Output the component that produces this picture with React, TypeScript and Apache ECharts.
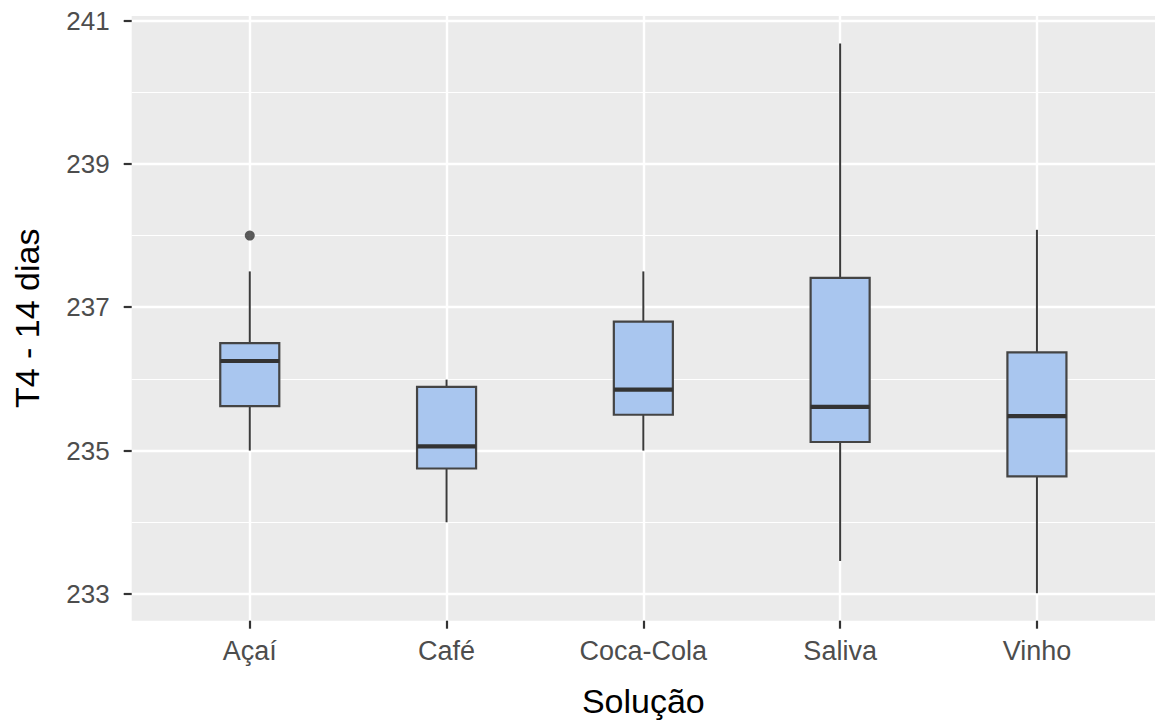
import React, { useEffect, useRef } from "react";
import * as echarts from "echarts";

const categories = ["Açaí", "Café", "Coca-Cola", "Saliva", "Vinho"];
const lowerWhisker = [235.0, 234.0, 235.0, 233.46, 233.01];
const q1 = [235.62, 234.75, 235.5, 235.12, 234.64];
const median = [236.25, 235.06, 235.85, 235.61, 235.48];
const q3 = [236.5, 235.89, 236.8, 237.41, 236.37];
const upperWhisker = [237.5, 235.99, 237.5, 240.68, 238.08];
const outliers = [[0, 238.0]];

const yMajorTicks = [233, 235, 237, 239, 241];
const yMinorTicks = [234, 236, 238, 240];
const xTicks = [0, 1, 2, 3, 4];

const FONT = "'Liberation Sans', Arial, Helvetica, sans-serif";

export default function App() {
  const ref = useRef<HTMLDivElement>(null);

  useEffect(() => {
    if (!ref.current) return;
    const chart = echarts.init(ref.current, undefined, { renderer: "svg" });

    const allVals = [...lowerWhisker, ...upperWhisker, ...outliers.map((o) => o[1])];
    const dMin = Math.min(...allVals);
    const dMax = Math.max(...allVals);
    const range = dMax - dMin;
    const yMin = dMin - 0.05 * range;
    const yMax = dMax + 0.05 * range;

    const boxData = categories.map((_, i) => [
      i,
      lowerWhisker[i],
      q1[i],
      median[i],
      q3[i],
      upperWhisker[i],
    ]);

    const panelLeft = 131.7;
    const panelTop = 16;
    const panelW = 1155 - panelLeft;
    const panelH = 620.7 - panelTop;

    chart.setOption({
      animation: false,
      backgroundColor: "#ffffff",
      textStyle: { fontFamily: FONT },
      grid: {
        left: panelLeft,
        top: panelTop,
        width: panelW,
        height: panelH,
        show: true,
        backgroundColor: "#EBEBEB",
        borderWidth: 0,
      },
      xAxis: {
        type: "value",
        min: -0.6,
        max: 4.6,
        position: "bottom",
        axisLine: { show: false, onZero: false },
        axisTick: {
          show: true,
          customValues: xTicks,
          length: 8,
          lineStyle: { color: "#333333", width: 2.2 },
        },
        axisLabel: {
          show: true,
          customValues: xTicks,
          formatter: (v: number) => categories[Math.round(v)] ?? "",
          fontSize: 27,
          color: "#4D4D4D",
          fontFamily: FONT,
          margin: 17,
        },
        splitLine: { show: true, lineStyle: { color: "#ffffff", width: 2.4 } },
      },
      yAxis: [
        {
          type: "value",
          min: yMin,
          max: yMax,
          position: "left",
          axisLine: { show: false, onZero: false },
          axisTick: {
            show: true,
            customValues: yMajorTicks,
            length: 8,
            lineStyle: { color: "#333333", width: 2.2 },
          },
          axisLabel: {
            show: true,
            customValues: yMajorTicks,
            fontSize: 26,
            color: "#4D4D4D",
            fontFamily: FONT,
            margin: 22,
          },
          splitLine: { show: true, lineStyle: { color: "#ffffff", width: 2.4 } },
        },
        {
          type: "value",
          min: yMin,
          max: yMax,
          position: "left",
          axisLine: { show: false, onZero: false },
          axisTick: { show: false, customValues: yMinorTicks },
          axisLabel: { show: false, customValues: yMinorTicks },
          splitLine: { show: true, lineStyle: { color: "#ffffff", width: 1.2 } },
        },
      ],
      series: [
        {
          type: "custom",
          xAxisIndex: 0,
          yAxisIndex: 0,
          data: boxData,
          encode: { x: 0, y: [1, 2, 3, 4, 5] },
          renderItem: (params: any, api: any) => {
            const i = api.value(0);
            const pLo = api.coord([i, api.value(1)]);
            const pQ1 = api.coord([i, api.value(2)]);
            const pMed = api.coord([i, api.value(3)]);
            const pQ3 = api.coord([i, api.value(4)]);
            const pHi = api.coord([i, api.value(5)]);
            const halfW = api.size([0.3, 0])[0] / 2;
            const cx = pMed[0];
            const lineColor = "#3a3a3a";
            return {
              type: "group",
              children: [
                {
                  type: "line",
                  shape: { x1: cx, y1: pLo[1], x2: cx, y2: pQ1[1] },
                  style: { stroke: lineColor, lineWidth: 2 },
                },
                {
                  type: "line",
                  shape: { x1: cx, y1: pQ3[1], x2: cx, y2: pHi[1] },
                  style: { stroke: lineColor, lineWidth: 2 },
                },
                {
                  type: "rect",
                  shape: {
                    x: cx - halfW,
                    y: pQ3[1],
                    width: halfW * 2,
                    height: pQ1[1] - pQ3[1],
                  },
                  style: { fill: "#A9C6EF", stroke: "#444444", lineWidth: 2.2 },
                },
                {
                  type: "line",
                  shape: { x1: cx - halfW, y1: pMed[1], x2: cx + halfW, y2: pMed[1] },
                  style: { stroke: "#333333", lineWidth: 4.2 },
                },
              ],
            };
          },
          z: 2,
        },
        {
          type: "scatter",
          xAxisIndex: 0,
          yAxisIndex: 0,
          data: outliers,
          symbol: "circle",
          symbolSize: 10,
          itemStyle: { color: "#333333" },
          z: 3,
        },
      ],
      graphic: [
        {
          type: "text",
          x: panelLeft + panelW / 2,
          y: 701,
          style: {
            text: "Solução",
            fontSize: 34,
            fontFamily: FONT,
            fill: "#000000",
            align: "center",
            verticalAlign: "middle",
          },
        },
        {
          type: "text",
          x: 27,
          y: panelTop + panelH / 2,
          rotation: Math.PI / 2,
          style: {
            text: "T4 - 14 dias",
            fontSize: 34,
            fontFamily: FONT,
            fill: "#000000",
            align: "center",
            verticalAlign: "middle",
          },
        },
      ],
    });

    return () => {
      chart.dispose();
    };
  }, []);

  return (
    <div
      ref={ref}
      style={{ position: "absolute", left: 0, top: 0, width: 1155, height: 722 }}
    />
  );
}
